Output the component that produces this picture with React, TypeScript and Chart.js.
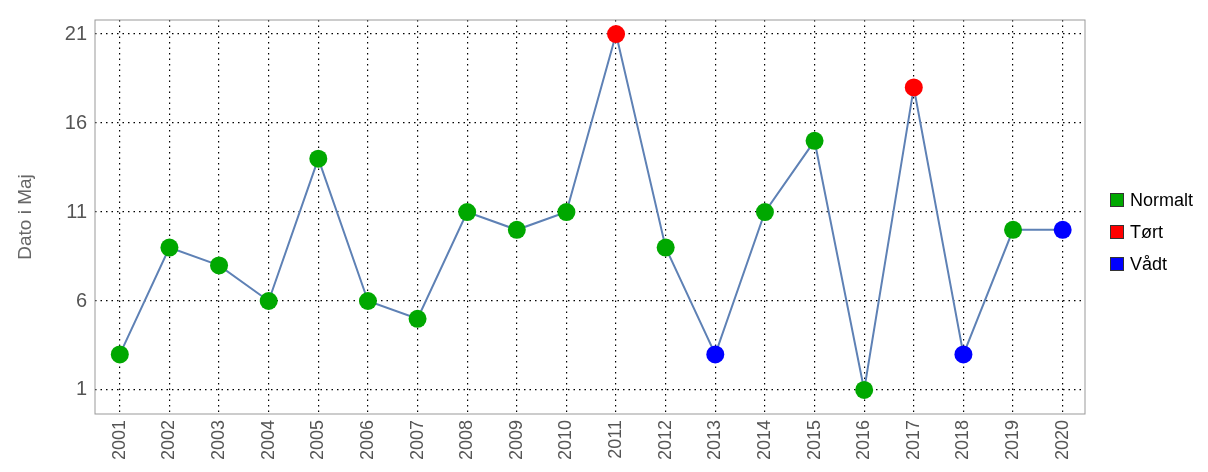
import React, { useRef, useEffect } from 'react';
import Chart from 'chart.js/auto';

const years = [2001, 2002, 2003, 2004, 2005, 2006, 2007, 2008, 2009, 2010, 2011, 2012, 2013, 2014, 2015, 2016, 2017, 2018, 2019, 2020];
const dates = [3, 9, 8, 6, 14, 6, 5, 11, 10, 11, 21, 9, 3, 11, 15, 1, 18, 3, 10, 10];
const kind = ['N', 'N', 'N', 'N', 'N', 'N', 'N', 'N', 'N', 'N', 'T', 'N', 'V', 'N', 'N', 'N', 'T', 'V', 'N', 'V'];
const yTicks = [1, 6, 11, 16, 21];
const legendItems = [
  { key: 'N', label: 'Normalt', color: '#00a800' },
  { key: 'T', label: 'Tørt', color: '#ff0000' },
  { key: 'V', label: 'Vådt', color: '#0000ff' },
];

const colorOf = (k: string) => legendItems.find((l) => l.key === k)!.color;

const App: React.FC = () => {
  const canvasRef = useRef<HTMLCanvasElement>(null);

  useEffect(() => {
    document.body.style.margin = '0';
    const ctx = canvasRef.current!.getContext('2d')!;
    const grid = { color: '#000', lineWidth: 1.2, drawTicks: false };
    const border = { display: false, dash: [1.5, 4] };
    const chart = new Chart(ctx, {
      type: 'line',
      data: {
        datasets: [{
          data: years.map((y, i) => ({ x: y, y: dates[i] })),
          borderColor: '#5e81b5',
          borderWidth: 2,
          pointRadius: 9,
          pointHoverRadius: 9,
          pointBorderWidth: 0,
          pointBackgroundColor: kind.map(colorOf),
        }],
      },
      options: {
        animation: false,
        responsive: false,
        layout: { padding: { top: 4, right: 123, left: 0, bottom: 0 } },
        plugins: { legend: { display: false }, tooltip: { enabled: false } },
        scales: {
          x: {
            type: 'linear',
            min: 2000.5,
            max: 2020.45,
            afterBuildTicks: (s: any) => { s.ticks = years.map((v) => ({ value: v })); },
            afterFit: (s: any) => { s.height = 58; },
            border,
            grid,
            ticks: {
              color: '#555',
              font: { family: 'Liberation Sans, Arial', size: 18 },
              maxRotation: 90,
              minRotation: 90,
              padding: 6,
              callback: (v: any) => String(v),
            },
          },
          y: {
            min: -0.35,
            max: 21.79,
            afterBuildTicks: (s: any) => { s.ticks = yTicks.map((v) => ({ value: v })); },
            afterFit: (s: any) => { s.width = 95; },
            border,
            grid,
            title: {
              display: true,
              text: 'Dato i Maj',
              color: '#666',
              font: { family: 'Liberation Sans, Arial', size: 19 },
              padding: { top: 14, bottom: 0 },
            },
            ticks: {
              color: '#555',
              font: { family: 'Liberation Sans, Arial', size: 20 },
              padding: 8,
            },
          },
        },
      },
      plugins: [{
        id: 'frame',
        afterDraw: (c: any) => {
          const { left, right, top, bottom } = c.chartArea;
          const g = c.ctx;
          g.save();
          g.strokeStyle = '#999';
          g.lineWidth = 1;
          g.strokeRect(left, top, right - left, bottom - top);
          g.restore();
        },
      }],
    });
    return () => chart.destroy();
  }, []);

  return (
    <div style={{ position: 'relative', width: 1208, height: 472 }}>
      <canvas ref={canvasRef} width={1208} height={472} />
      <div style={{ position: 'absolute', left: 1110, top: 184, fontFamily: 'Liberation Sans, Arial', fontSize: 18, color: '#000' }}>
        {legendItems.map((l) => (
          <div key={l.key} style={{ display: 'flex', alignItems: 'center', height: 32 }}>
            <span style={{ width: 12, height: 12, background: l.color, border: '1px solid #333', marginRight: 6 }} />
            {l.label}
          </div>
        ))}
      </div>
    </div>
  );
};

export default App;
